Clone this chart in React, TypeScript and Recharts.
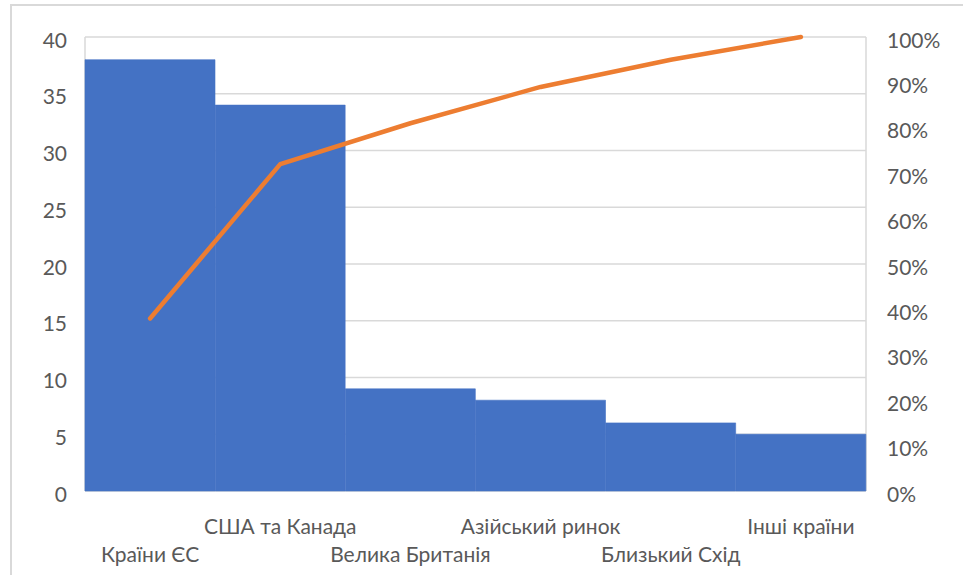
// ParetoChart.tsx
import React from 'react';
import { ComposedChart, Bar, Line, XAxis, YAxis, CartesianGrid } from 'recharts';

const categories = ['Країни ЄС', 'США та Канада', 'Велика Британія', 'Азійський ринок', 'Близький Схід', 'Інші країни'];
const counts = [38, 34, 9, 8, 6, 5];
const cumulativePct = [38, 72, 81, 89, 95, 100];
const leftTicks = [0, 5, 10, 15, 20, 25, 30, 35, 40];
const rightTicks = [0, 10, 20, 30, 40, 50, 60, 70, 80, 90, 100];

const data = categories.map((name, i) => ({ name, count: counts[i], pct: cumulativePct[i] }));

const FONT = 'Lato, "Liberation Sans", sans-serif';
const TEXT = '#595959';

const XTick = (props: any) => {
  const { x, y, payload, index } = props;
  const dy = index % 2 === 1 ? 26 : 54;
  return (
    <text x={x} y={y + dy} textAnchor="middle" dominantBaseline="central" fill={TEXT} fontSize={21} fontFamily={FONT}>
      {payload.value}
    </text>
  );
};

const LeftTick = (props: any) => {
  const { x, y, payload } = props;
  return (
    <text x={x} y={y + 2} textAnchor="end" dominantBaseline="central" fill={TEXT} fontSize={21} fontFamily={FONT}>
      {payload.value}
    </text>
  );
};

const RightTick = (props: any) => {
  const { x, y, payload } = props;
  return (
    <text x={x} y={y + 2} textAnchor="start" dominantBaseline="central" fill={TEXT} fontSize={21} fontFamily={FONT}>
      {payload.value + '%'}
    </text>
  );
};

const App: React.FC = () => {
  return (
    <div style={{ position: 'absolute', left: 0, top: 0, width: 963, height: 575, background: '#fff', overflow: 'hidden' }}>
      <div style={{ position: 'absolute', left: 10, top: 4, right: -10, bottom: -10, borderLeft: '2px solid #D9D9D9', borderTop: '2px solid #D9D9D9' }} />
      <ComposedChart
        width={963}
        height={575}
        data={data}
        margin={{ top: 37, right: 0, bottom: 0, left: 0 }}
        barCategoryGap={0}
        style={{ position: 'absolute', left: 0, top: 0 }}
      >
        <CartesianGrid stroke="#D9D9D9" strokeWidth={1.5} horizontal vertical verticalPoints={[85, 866]} yAxisId="left" />
        <XAxis
          dataKey="name"
          height={84}
          axisLine={false}
          tickLine={false}
          interval={0}
          tick={<XTick />}
        />
        <YAxis
          yAxisId="left"
          orientation="left"
          width={85}
          domain={[0, 40]}
          ticks={leftTicks}
          axisLine={false}
          tickLine={false}
          tickSize={0}
          tickMargin={18}
          tick={<LeftTick />}
        />
        <YAxis
          yAxisId="right"
          orientation="right"
          width={97}
          domain={[0, 100]}
          ticks={rightTicks}
          axisLine={false}
          tickLine={false}
          tickSize={0}
          tickMargin={21}
          tick={<RightTick />}
        />
        <Bar yAxisId="left" dataKey="count" fill="#4472C4" stroke="#4472C4" strokeWidth={0.6} isAnimationActive={false} />
        <Line
          yAxisId="right"
          dataKey="pct"
          stroke="#ED7D31"
          strokeWidth={4.5}
          strokeLinecap="round"
          strokeLinejoin="round"
          dot={false}
          activeDot={false}
          isAnimationActive={false}
        />
      </ComposedChart>
    </div>
  );
};

export default App;
